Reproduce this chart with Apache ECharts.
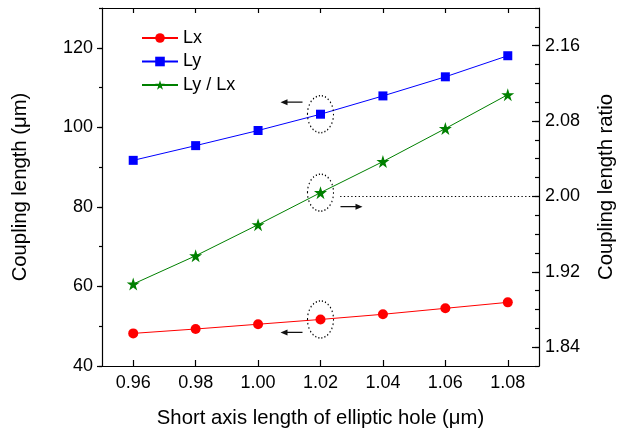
<!DOCTYPE html>
<html><head><meta charset="utf-8">
<script src="https://cdn.jsdelivr.net/npm/echarts@6/dist/echarts.min.js"></script>
<style>html,body{margin:0;padding:0;background:#fff}#c{width:624px;height:433px}</style>
</head><body><div id="c"></div>
<script>
// ---- data ----
const xValues = [0.96, 0.98, 1.00, 1.02, 1.04, 1.06, 1.08];
const lxValues = [48.2, 49.3, 50.5, 51.7, 53.0, 54.5, 56.0];
const lyValues = [91.7, 95.4, 99.2, 103.3, 107.9, 112.7, 118.0];
const ratioValues = [1.907, 1.937, 1.970, 2.004, 2.037, 2.072, 2.108];
const seriesNames = ['Lx', 'Ly', 'Ly / Lx'];
const xTickLabels = [0.96, 0.98, 1.00, 1.02, 1.04, 1.06, 1.08];
const leftTickLabels = [40, 60, 80, 100, 120];
const rightTickLabels = [1.84, 1.92, 2.00, 2.08, 2.16];
const markedIndex = 3;          // the circled points (x = 1.02)
const ratioRef = 2.00;          // dotted reference level on the ratio axis
const refLineStartX = 1.0263;

// ---- axis ranges ----
const xMin = 0.95, xMax = 1.09;
const leftMin = 40, leftMax = 130;
const rightMin = 1.82, rightMax = 2.20;

const FONT = '"Liberation Sans", Arial, Helvetica, sans-serif';
const TICK_FS = 18, NAME_FS = 20.3;
const STAR = 'path://M12,0 L14.8,8.6 L23.8,8.6 L16.5,13.9 L19.3,22.5 L12,17.2 L4.7,22.5 L7.5,13.9 L0.2,8.6 L9.2,8.6 Z';
const ELLIPSE = 'path://M0,50 A50,50 0 1,1 100,50 A50,50 0 1,1 0,50 Z';
const ARROW_L = 'path://M0,3 L7,0 L7,2.4 L22,2.4 L22,3.6 L7,3.6 L7,6 Z';
const ARROW_R = 'path://M22,3 L15,0 L15,2.4 L0,2.4 L0,3.6 L15,3.6 L15,6 Z';

function pairs(ys) { return xValues.map((x, i) => [x, ys[i]]); }
function fmt2(v) { return Number(v).toFixed(2); }

function annot(xv, yv, arrow, offset) {
  return {
    silent: true,
    label: { show: false },
    data: [
      { coord: [xv, yv], symbol: ELLIPSE, symbolSize: [26, 37],
        itemStyle: { color: 'rgba(0,0,0,0)', borderColor: '#000', borderWidth: 1.3, borderType: [1.3, 2.4] } },
      { coord: [xv, yv], symbol: arrow, symbolSize: [22, 6], symbolOffset: offset,
        itemStyle: { color: '#111' } }
    ]
  };
}

const chart = echarts.init(document.getElementById('c'), null, { renderer: 'canvas' });
chart.setOption({
  animation: false,
  backgroundColor: '#fff',
  textStyle: { fontFamily: FONT, color: '#000' },
  grid: { left: 102, right: 83, top: 8, bottom: 67, containLabel: false },
  legend: {
    data: seriesNames, orient: 'vertical', left: 141, top: 29, padding: 0,
    itemWidth: 36, itemHeight: 12, itemGap: 5.5,
    textStyle: { fontSize: TICK_FS, fontFamily: FONT, color: '#000' }
  },
  xAxis: [
    { type: 'value', min: xMin, max: xMax, position: 'bottom',
      name: 'Short axis length of elliptic hole (μm)', nameLocation: 'middle', nameGap: 42,
      nameTextStyle: { fontSize: NAME_FS, fontFamily: FONT, color: '#000' },
      axisLine: { show: true, lineStyle: { color: '#000', width: 1.2 } },
      axisTick: { show: true, inside: true, length: 6, customValues: xTickLabels, lineStyle: { color: '#000', width: 1.2 } },
      axisLabel: { show: true, customValues: xTickLabels, formatter: fmt2, fontSize: TICK_FS, margin: 8, color: '#000', fontFamily: FONT },
      splitLine: { show: false } },
    { type: 'value', min: xMin, max: xMax, position: 'top',
      axisLine: { show: true, onZero: false, lineStyle: { color: '#000', width: 1.2 } },
      axisTick: { show: true, inside: true, length: 5, customValues: xTickLabels, lineStyle: { color: '#000', width: 1.2 } },
      axisLabel: { show: false }, splitLine: { show: false } }
  ],
  yAxis: [
    { type: 'value', min: leftMin, max: leftMax, position: 'left',
      name: 'Coupling length (μm)', nameLocation: 'middle', nameGap: 72, nameRotate: 90,
      nameTextStyle: { fontSize: NAME_FS, fontFamily: FONT, color: '#000' },
      axisLine: { show: true, onZero: false, lineStyle: { color: '#000', width: 1.2 } },
      axisTick: { show: true, inside: false, length: 5, customValues: leftTickLabels, lineStyle: { color: '#000', width: 1.2 } },
      axisLabel: { show: true, customValues: leftTickLabels, fontSize: TICK_FS, margin: 9, color: '#000', fontFamily: FONT },
      splitLine: { show: false } },
    { type: 'value', min: rightMin, max: rightMax, position: 'right',
      name: 'Coupling length ratio', nameLocation: 'middle', nameGap: 57, nameRotate: 90,
      nameTextStyle: { fontSize: NAME_FS, fontFamily: FONT, color: '#000' },
      axisLine: { show: true, onZero: false, lineStyle: { color: '#000', width: 1.2 } },
      axisTick: { show: true, inside: true, length: 7, customValues: rightTickLabels, lineStyle: { color: '#000', width: 1.2 } },
      axisLabel: { show: true, customValues: rightTickLabels, formatter: fmt2, fontSize: TICK_FS, margin: 6, color: '#000', fontFamily: FONT },
      splitLine: { show: false } },
    // minor ticks of the right axis
    { type: 'value', min: rightMin, max: rightMax, interval: 0.02, position: 'right',
      axisLine: { show: false },
      axisTick: { show: true, inside: true, length: 4, lineStyle: { color: '#000', width: 1.2 } },
      axisLabel: { show: false }, splitLine: { show: false } },
    // minor ticks of the left axis
    { type: 'value', min: leftMin, max: leftMax, interval: 10, position: 'left',
      axisLine: { show: false },
      axisTick: { show: true, inside: false, length: 3, lineStyle: { color: '#000', width: 1.2 } },
      axisLabel: { show: false }, splitLine: { show: false } }
  ],
  series: [
    { name: seriesNames[0], type: 'line', xAxisIndex: 0, yAxisIndex: 0, data: pairs(lxValues),
      symbol: 'circle', symbolSize: 10, color: '#ff0000',
      lineStyle: { width: 1, color: '#ff0000' }, itemStyle: { color: '#ff0000' },
      markPoint: annot(xValues[markedIndex], lxValues[markedIndex], ARROW_L, [-29, 13]) },
    { name: seriesNames[1], type: 'line', xAxisIndex: 0, yAxisIndex: 0, data: pairs(lyValues),
      symbol: 'rect', symbolSize: 9, color: '#0000ff',
      lineStyle: { width: 1, color: '#0000ff' }, itemStyle: { color: '#0000ff' },
      markPoint: annot(xValues[markedIndex], lyValues[markedIndex], ARROW_L, [-29, -12]) },
    { name: seriesNames[2], type: 'line', xAxisIndex: 0, yAxisIndex: 1, data: pairs(ratioValues),
      symbol: STAR, symbolSize: 13, color: '#008000',
      lineStyle: { width: 1, color: '#008000' }, itemStyle: { color: '#008000' },
      markPoint: annot(xValues[markedIndex], ratioValues[markedIndex], ARROW_R, [31, 14]),
      markLine: { silent: true, symbol: ['none', 'none'], label: { show: false },
        lineStyle: { type: [1.3, 2.4], color: '#000', width: 1 },
        data: [[{ coord: [refLineStartX, ratioRef] }, { coord: [xMax, ratioRef] }]] } }
  ]
});
</script>
</body></html>
